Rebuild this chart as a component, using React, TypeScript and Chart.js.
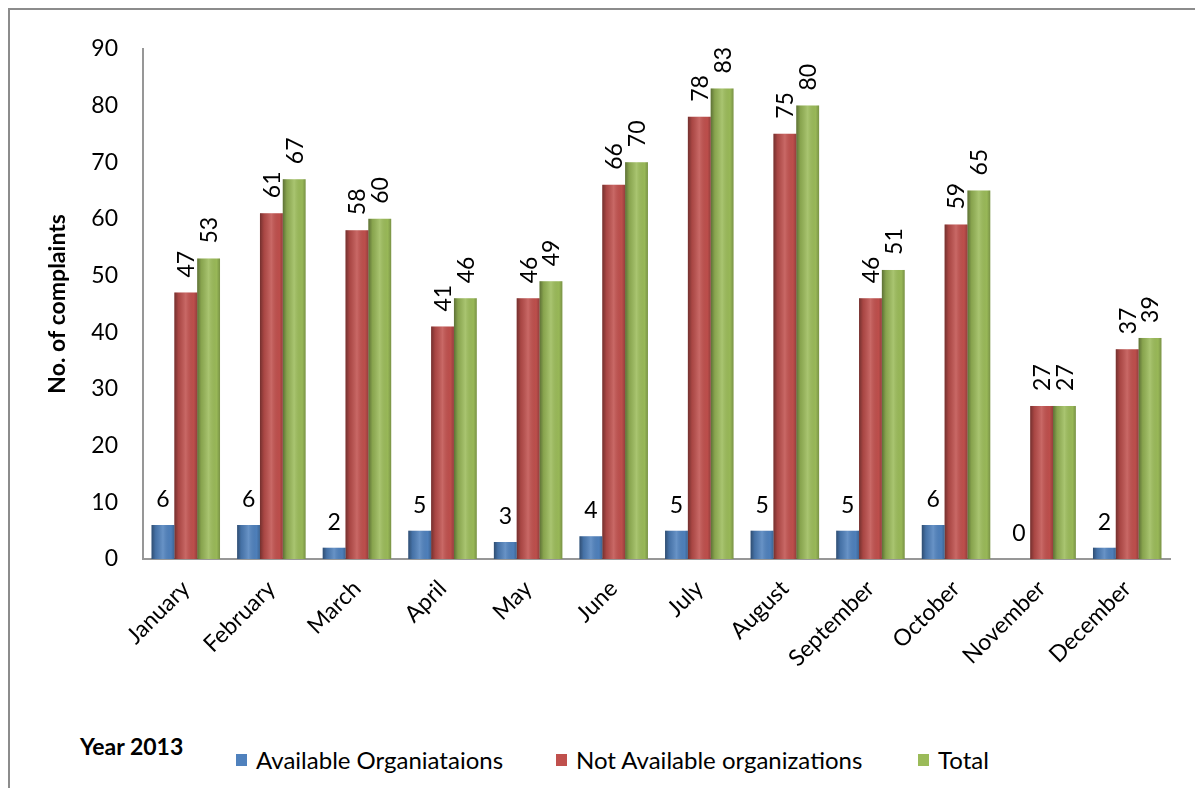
import React, { useEffect, useRef } from "react";
import { Chart, registerables } from "chart.js";

Chart.register(...registerables);

const months = ["January", "February", "March", "April", "May", "June", "July", "August", "September", "October", "November", "December"];
const available = [6, 6, 2, 5, 3, 4, 5, 5, 5, 6, 0, 2];
const notAvailable = [47, 61, 58, 41, 46, 66, 78, 75, 46, 59, 27, 37];
const total = [53, 67, 60, 46, 49, 70, 83, 80, 51, 65, 27, 39];
const seriesNames = ["Available Organiataions", "Not Available organizations", "Total"];
const seriesColors = ["#4f81bd", "#c0504d", "#9bbb59"];
const yTicks = [0, 10, 20, 30, 40, 50, 60, 70, 80, 90];

const FONT = "Lato, 'Open Sans', sans-serif";

const shadePlugin = {
  id: "shade",
  afterDatasetsDraw(chart: any) {
    const ctx = chart.ctx;
    chart.data.datasets.forEach((_: any, di: number) => {
      const meta = chart.getDatasetMeta(di);
      meta.data.forEach((el: any) => {
        const { x, y, base, width } = el.getProps(["x", "y", "base", "width"], true);
        if (Math.abs(base - y) < 0.5) return;
        const l = x - width / 2;
        const g = ctx.createLinearGradient(l, 0, l + width, 0);
        g.addColorStop(0, "rgba(0,0,0,0.40)");
        g.addColorStop(0.18, "rgba(0,0,0,0.12)");
        g.addColorStop(0.5, "rgba(255,255,255,0.14)");
        g.addColorStop(0.85, "rgba(0,0,0,0.02)");
        g.addColorStop(1, "rgba(0,0,0,0.22)");
        ctx.save();
        ctx.fillStyle = g;
        ctx.fillRect(l, Math.min(y, base), width, Math.abs(base - y));
        ctx.restore();
      });
    });
  },
};

const labelPlugin = {
  id: "valueLabels",
  afterDatasetsDraw(chart: any) {
    const ctx = chart.ctx;
    ctx.save();
    ctx.fillStyle = "#000";
    ctx.font = `23px ${FONT}`;
    chart.data.datasets.forEach((ds: any, di: number) => {
      const meta = chart.getDatasetMeta(di);
      meta.data.forEach((el: any, i: number) => {
        const { x, y } = el.getProps(["x", "y"], true);
        const v = String(ds.data[i]);
        if (di === 0) {
          ctx.textAlign = "center";
          ctx.textBaseline = "alphabetic";
          ctx.fillText(v, x, y - 18);
        } else {
          ctx.save();
          ctx.translate(x + 1, y - 15);
          ctx.rotate(-Math.PI / 2);
          ctx.textAlign = "left";
          ctx.textBaseline = "middle";
          ctx.fillText(v, 0, 0);
          ctx.restore();
        }
      });
    });
    ctx.restore();
  },
};

export default function App() {
  const ref = useRef<HTMLCanvasElement>(null);
  useEffect(() => {
    if (!ref.current) return;
    const chart = new Chart(ref.current, {
      type: "bar",
      data: {
        labels: months,
        datasets: [available, notAvailable, total].map((d, i) => ({
          label: seriesNames[i],
          data: d,
          backgroundColor: seriesColors[i],
          borderWidth: 0,
          categoryPercentage: 0.8,
          barPercentage: 1.0,
        })),
      },
      options: {
        animation: false,
        responsive: false,
        maintainAspectRatio: false,
        layout: { padding: { left: 30, top: 38, right: 33, bottom: 0 } },
        plugins: { legend: { display: false }, tooltip: { enabled: false } },
        scales: {
          x: {
            grid: { display: false, drawTicks: false },
            border: { display: true, color: "#979797", width: 2 },
            ticks: {
              color: "#000",
              font: { family: FONT, size: 23 },
              minRotation: 45,
              maxRotation: 45,
              autoSkip: false,
              padding: 16,
            },
            afterFit: (s: any) => {
              s.height = 131;
            },
          },
          y: {
            min: 0,
            max: 90,
            grid: { display: false, drawTicks: false },
            border: { display: true, color: "#979797", width: 2 },
            afterBuildTicks: (s: any) => {
              s.ticks = yTicks.map((v) => ({ value: v }));
            },
            ticks: {
              color: "#000",
              font: { family: FONT, size: 23 },
              padding: 25,
            },
            title: {
              display: true,
              text: "No. of complaints",
              color: "#000",
              font: { family: FONT, size: 23, weight: "bold" },
              padding: { top: 4, bottom: 0 },
            },
            afterFit: (s: any) => {
              s.width = 103;
            },
          },
        },
      },
      plugins: [shadePlugin, labelPlugin],
    });
    return () => chart.destroy();
  }, []);

  const legendText: React.CSSProperties = {
    position: "absolute",
    fontFamily: FONT,
    fontSize: 24,
    color: "#000",
    whiteSpace: "nowrap",
    lineHeight: "28px",
  };
  const box = (c: string): React.CSSProperties => ({
    position: "absolute",
    width: 11,
    height: 12,
    background: c,
  });
  const legendX = [226, 546, 908];
  const textX = [246, 566, 928];

  return (
    <div
      style={{
        position: "relative",
        width: 1193,
        height: 778,
        borderTop: "2px solid #8c8c8c",
        borderLeft: "2px solid #8c8c8c",
        background: "#fff",
      }}
    >
      <canvas ref={ref} width={1193} height={680} style={{ position: "absolute", left: 0, top: 0, width: 1193, height: 680 }} />
      <div style={{ ...legendText, left: 70, top: 722, fontWeight: "bold", fontSize: 23 }}>Year 2013</div>
      {seriesNames.map((n, i) => (
        <React.Fragment key={n}>
          <div style={{ ...box(seriesColors[i]), left: legendX[i], top: 744 }} />
          <div style={{ ...legendText, left: textX[i], top: 736 }}>{n}</div>
        </React.Fragment>
      ))}
    </div>
  );
}
